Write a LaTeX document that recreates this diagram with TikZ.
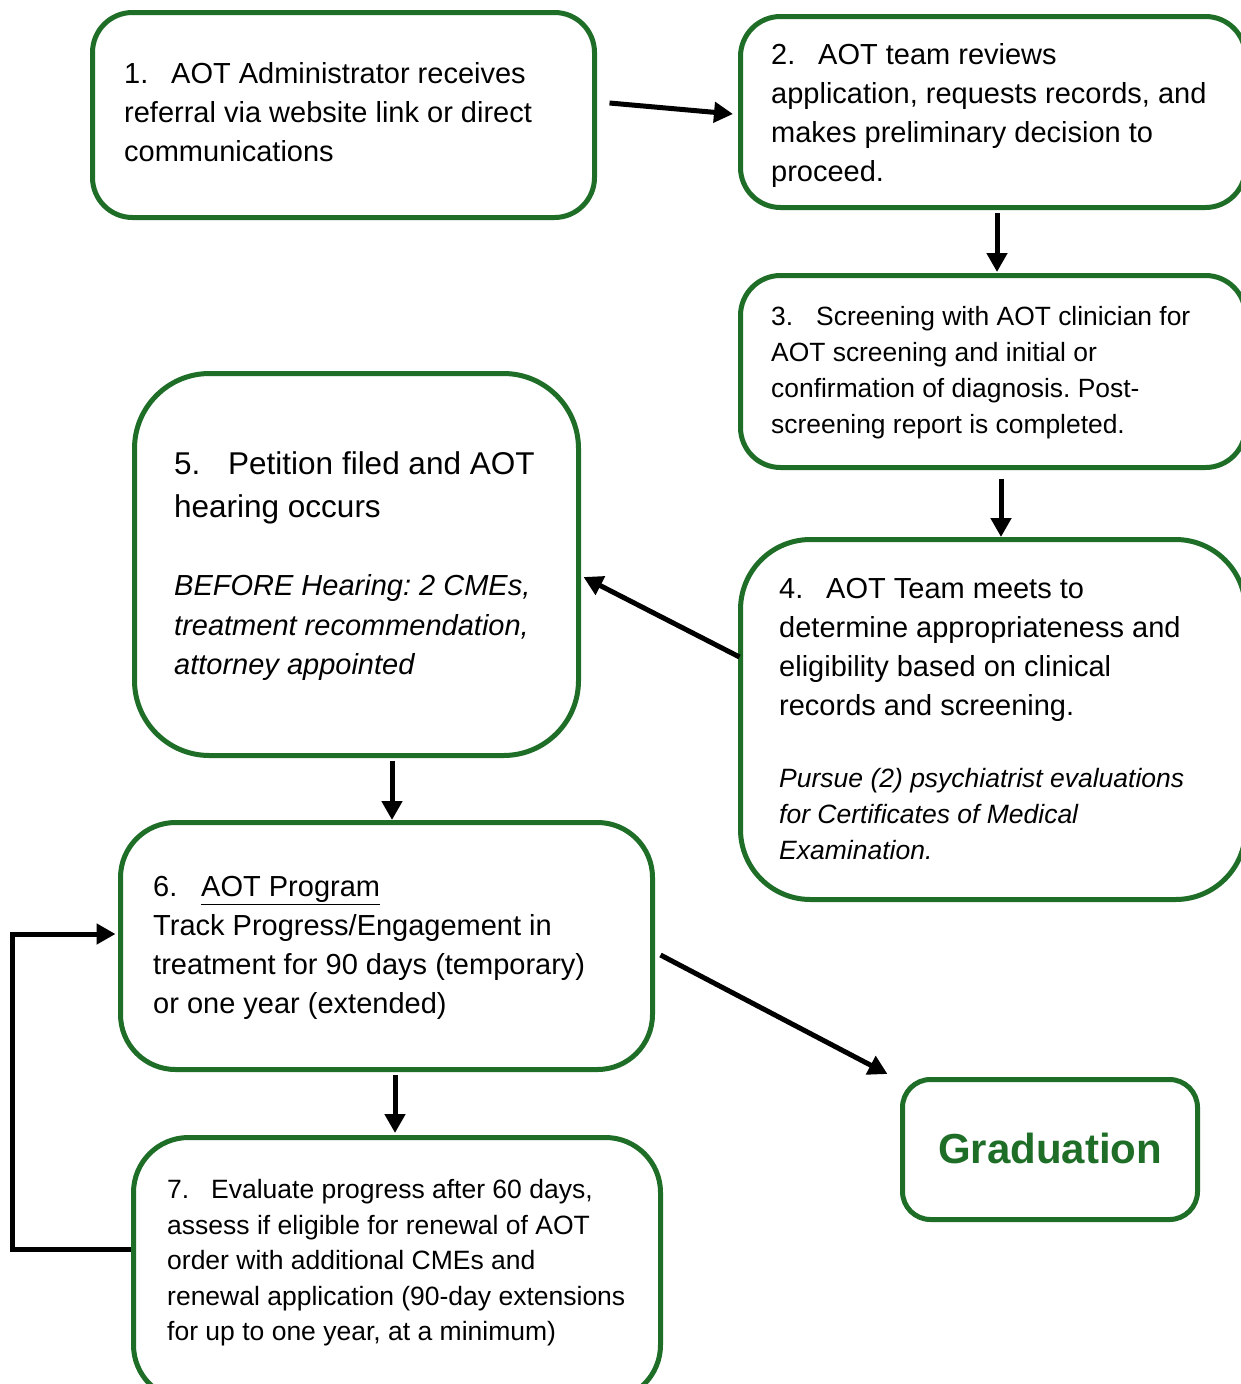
\documentclass[tikz,border=0pt]{standalone}
\usepackage{fontspec}
\setmainfont{Liberation Sans}
\usetikzlibrary{arrows.meta,calc}
\definecolor{boxgreen}{RGB}{30,110,40}
\frenchspacing
\begin{document}
\begin{tikzpicture}[x=1pt,y=-1pt,
  box/.style={draw=boxgreen,line width=5pt,rounded corners=#1,inner sep=0pt,fill=none},
  box/.default=40pt,
  txt/.style={anchor=north west,inner sep=0pt,align=left},
  conn/.style={line width=5pt,-{Triangle[length=19pt,width=20pt]}}]
\useasboundingbox (0,0) rectangle (1241,1384);
\fill[white] (0,0) rectangle (1241,1384);
% boxes
\node[box, minimum width=502pt, minimum height=205pt] (b1) at (343.5,115) {};
\node[box, minimum width=505pt, minimum height=191pt] (b2) at (993,112) {};
\node[box, minimum width=505pt, minimum height=192pt] (b3) at (993,371.5) {};
\node[box=70pt, minimum width=505pt, minimum height=360pt] (b4) at (993,719.5) {};
\node[box=75pt, minimum width=444pt, minimum height=382pt] (b5) at (356.5,564.5) {};
\node[box=55pt, minimum width=532pt, minimum height=247pt] (b6) at (386.5,946) {};
\node[box=55pt, minimum width=527pt, minimum height=262.5pt] (b7) at (397,1268.75) {};
\node[box=28pt, minimum width=295pt, minimum height=140pt] (grad) at (1050,1149.5) {};
% texts
\node[txt,font=\fontsize{29}{39}\selectfont] (t1) at (124,56.1)
  {\strut\makebox[47pt][l]{1.}AOT Administrator receives\\referral via website link or direct\\communications};
\node[txt,font=\fontsize{29}{39}\selectfont] (t2) at (771,37.1)
  {\strut\makebox[47pt][l]{2.}AOT team reviews\\application, requests records, and\\makes preliminary decision to\\proceed.};
\node[txt,font=\fontsize{26.4}{36}\selectfont] (t3) at (771,300.3)
  {\strut\makebox[45pt][l]{3.}Screening with AOT clinician for\\AOT screening and initial or\\confirmation of diagnosis. Post-\\screening report is completed.};
\node[txt,font=\fontsize{29}{39}\selectfont] (t4) at (779,571.1)
  {\strut\makebox[47pt][l]{4.}AOT Team meets to\\determine appropriateness and\\eligibility based on clinical\\records and screening.};
\node[txt,font=\fontsize{26.5}{36}\selectfont\itshape] (t4b) at (779,762.3)
  {\strut Pursue (2) psychiatrist evaluations\\for Certificates of Medical\\Examination.};
\node[txt,font=\fontsize{31.5}{43}\selectfont] (t5) at (174,444.2)
  {\strut\makebox[54pt][l]{5.}Petition filed and AOT\\hearing occurs};
\node[txt,font=\fontsize{29}{39.5}\selectfont\itshape] (t5b) at (174,567.75)
  {\strut BEFORE Hearing: 2 CMEs,\\treatment recommendation,\\attorney appointed};
\node[txt,font=\fontsize{29}{39}\selectfont] (t6) at (153,869.1)
  {\strut\makebox[48pt][l]{6.}\underline{AOT Program}\\Track Progress/Engagement in\\treatment for 90 days (temporary)\\or one year (extended)};
\node[txt,font=\fontsize{26.5}{35.5}\selectfont] (t7) at (167,1173.65)
  {\strut\makebox[44pt][l]{7.}Evaluate progress after 60 days,\\assess if eligible for renewal of AOT\\order with additional CMEs and\\renewal application (90-day extensions\\for up to one year, at a minimum)};
\node[font=\fontsize{42}{50}\selectfont\bfseries,text=boxgreen,inner sep=0pt] (gt) at (1050,1148) {Graduation};
% connectors
\draw[conn] ($(b1.east)+(12.5,-12)$) -- ($(b2.west)+(-5,2)$);
\draw[conn] ($(b2.south)+(4,2.5)$) -- ($(b3.north)+(4,-1)$);
\draw[conn] ($(b3.south)+(8,8.5)$) -- ($(b4.north)+(8,0)$);
\draw[conn] ($(b4.west)+(1.5,-62.5)$) -- ($(b5.east)+(2.5,12.5)$);
\draw[conn] ($(b5.south)+(35.5,2.5)$) -- ($(b6.north)+(5.5,0)$);
\draw[conn] ($(b6.east)+(5.5,9)$) -- ($(grad.north west)+(-12.5,-3)$);
\draw[conn] ($(b6.south)+(8.5,2.5)$) -- ($(b7.north)+(-2,-2)$);
\coordinate (loopx) at (12,1100);
\coordinate (s7) at ($(b7.west)+(0,-19.75)$);
\coordinate (e6) at ($(b6.west)+(-2.5,-12)$);
\draw[conn] (s7) -- (s7 -| loopx) -- (loopx |- e6) -- (e6);
\end{tikzpicture}
\end{document}
